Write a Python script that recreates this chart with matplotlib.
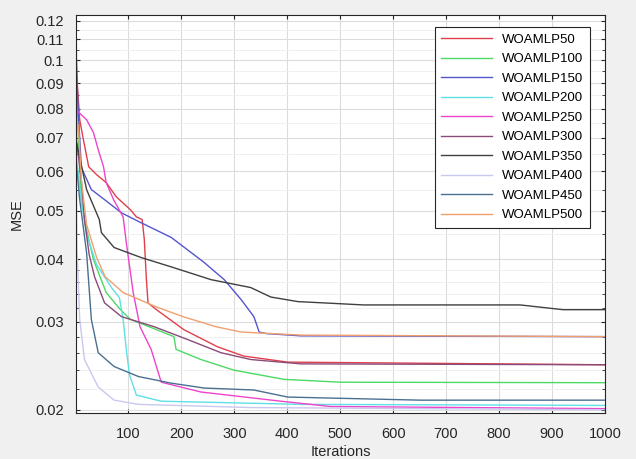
import matplotlib.pyplot as plt
from matplotlib.ticker import FixedLocator, NullFormatter

plt.rcParams['font.family'] = ['Liberation Sans', 'DejaVu Sans']

# iteration / MSE points
x50 = [1, 8, 15, 25, 40, 58, 77, 104, 115, 126, 130, 134, 137, 153, 205, 269, 318, 401, 1000]
y50 = [0.098, 0.076, 0.0693, 0.0612, 0.059, 0.0569, 0.0533, 0.0502, 0.0486, 0.048, 0.0438,
       0.0364, 0.0327, 0.0317, 0.0289, 0.0267, 0.0256, 0.0249, 0.0246]

x100 = [1, 2, 4, 11, 21, 34, 58, 85, 104, 143, 186, 190, 237, 299, 394, 501, 1000]
y100 = [0.122, 0.10, 0.075, 0.0526, 0.0458, 0.0399, 0.0343, 0.0317, 0.0303, 0.0292, 0.028,
        0.0264, 0.0252, 0.024, 0.023, 0.0227, 0.02265]

x150 = [1, 5, 11, 30, 55, 87, 124, 181, 243, 281, 313, 337, 347, 360, 426, 1000]
y150 = [0.105, 0.08, 0.061, 0.0551, 0.0526, 0.0495, 0.0473, 0.0442, 0.0394, 0.0364, 0.0332,
        0.0307, 0.0286, 0.0284, 0.0281, 0.028]

x200 = [1, 11, 21, 40, 68, 83, 90, 96, 102, 115, 162, 426, 1000]
y200 = [0.065, 0.0526, 0.0448, 0.039, 0.0351, 0.0335, 0.0303, 0.0264, 0.0235, 0.0214, 0.0208,
        0.0205, 0.0204]

x250 = [1, 21, 34, 43, 53, 58, 72, 90, 96, 109, 122, 143, 162, 237, 388, 482, 1000]
y250 = [0.0796, 0.076, 0.0716, 0.0662, 0.0612, 0.0569, 0.0526, 0.0486, 0.0432, 0.0343, 0.0293,
        0.0264, 0.0227, 0.0217, 0.0208, 0.0203, 0.0201]

x300 = [1, 11, 17, 26, 36, 55, 87, 149, 213, 275, 331, 426, 1000]
y300 = [0.07, 0.0577, 0.048, 0.0408, 0.0369, 0.0327, 0.0307, 0.0293, 0.0276, 0.026, 0.0252,
        0.0247, 0.0246]

x350 = [1, 21, 45, 49, 73, 124, 181, 256, 331, 369, 420, 495, 544, 840, 921, 1000]
y350 = [0.0693, 0.0551, 0.048, 0.0452, 0.0422, 0.0403, 0.0386, 0.0364, 0.0351, 0.0336, 0.0329,
        0.0326, 0.0324, 0.0324, 0.0317, 0.0317]

x400 = [1, 3, 8, 17, 43, 73, 119, 331, 1000]
y400 = [0.062, 0.0418, 0.0303, 0.0252, 0.0222, 0.0209, 0.0205, 0.0202, 0.0200]

x450 = [1, 8, 21, 30, 43, 73, 119, 181, 243, 337, 401, 652, 1000]
y450 = [0.063, 0.0526, 0.0412, 0.0303, 0.026, 0.0244, 0.0233, 0.0226, 0.0221, 0.0219, 0.0212,
        0.0209, 0.0209]

x500 = [1, 6, 11, 21, 40, 56, 90, 153, 203, 266, 313, 426, 1000]
y500 = [0.078, 0.0726, 0.0577, 0.0469, 0.0403, 0.0369, 0.0343, 0.0321, 0.0307, 0.0293, 0.0286,
        0.0282, 0.028]

names = ['WOAMLP50', 'WOAMLP100', 'WOAMLP150', 'WOAMLP200', 'WOAMLP250',
         'WOAMLP300', 'WOAMLP350', 'WOAMLP400', 'WOAMLP450', 'WOAMLP500']
xs = [x50, x100, x150, x200, x250, x300, x350, x400, x450, x500]
ys = [y50, y100, y150, y200, y250, y300, y350, y400, y450, y500]
colors = ['#e0404a', '#4cd964', '#5555cc', '#5ee0e6', '#ee44cc',
          '#8a4a7a', '#404040', '#c8c8f0', '#4a7090', '#f0a070']

yticks = [0.02, 0.03, 0.04, 0.05, 0.06, 0.07, 0.08, 0.09, 0.1, 0.11, 0.12]
xticks = [100, 200, 300, 400, 500, 600, 700, 800, 900, 1000]

fig = plt.figure(figsize=(6.36, 4.59), dpi=100, facecolor='#f0f0f0')
ax = fig.add_axes([0.1195, 0.1002, 0.8315, 0.8668])

for x, y, c, n in zip(xs, ys, colors, names):
    ax.plot(x, y, color=c, lw=1.0, label=n)

ax.set_yscale('log')
ax.set_xlim(1, 1000)
ax.set_ylim(0.0197, 0.123)
ax.yaxis.set_major_locator(FixedLocator(yticks))
ax.set_yticklabels(['%g' % v for v in yticks])
ax.yaxis.set_minor_locator(FixedLocator([0.022, 0.024, 0.026, 0.028, 0.032, 0.034, 0.036, 0.038,
                                         0.045, 0.055, 0.065, 0.075, 0.085, 0.095, 0.105, 0.115]))
ax.yaxis.set_minor_formatter(NullFormatter())
ax.set_xticks(xticks)

ax.grid(True, which='major', color='#dcdcdc', lw=0.8)
ax.grid(True, which='minor', axis='y', color='#eeeeee', lw=0.6)
ax.tick_params(which='both', direction='in', top=True, right=True, colors='#262626',
               labelsize=10.5, length=3)
ax.tick_params(axis='x', pad=10)
ax.tick_params(axis='y', pad=9)
ax.tick_params(which='minor', length=2)
for s in ax.spines.values():
    s.set_color('#262626')
    s.set_linewidth(0.8)

ax.set_xlabel('Iterations', fontsize=10.5, color='#262626', labelpad=3)
ax.set_ylabel('MSE', fontsize=10.5, color='#262626', labelpad=8)

leg = ax.legend(loc='upper right', bbox_to_anchor=(0.972, 0.970), borderaxespad=0,
                fontsize=9.5, handlelength=3.8, labelspacing=0.55, fancybox=False,
                framealpha=1, edgecolor='#262626', borderpad=0.5)
leg.get_frame().set_linewidth(0.8)

fig.savefig('out.png', dpi=100, facecolor=fig.get_facecolor())
